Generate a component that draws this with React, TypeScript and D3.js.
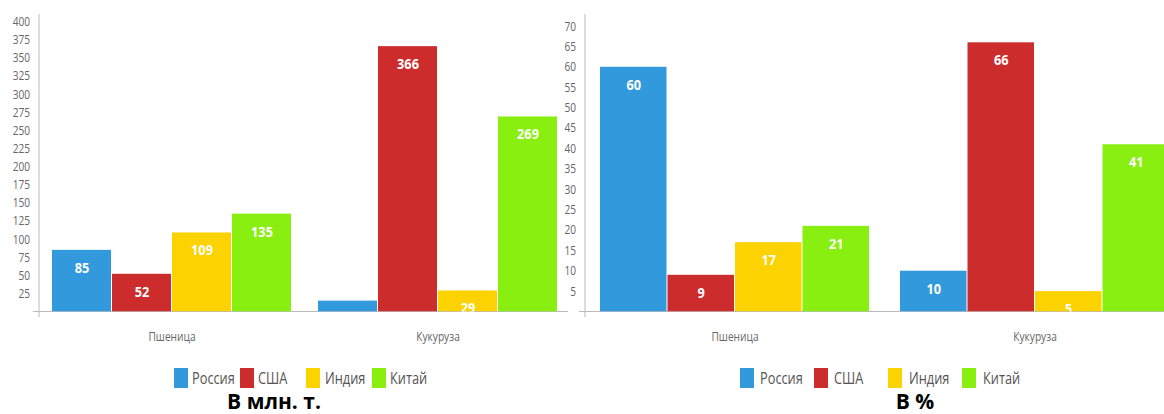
import React from "react";
import * as d3 from "d3";

const categories = ["Пшеница", "Кукуруза"];
const seriesNames = ["Россия", "США", "Индия", "Китай"];
const seriesColors = ["#3399dd", "#cc2c2c", "#fcd200", "#88ef10"];

// В млн. т.
const tonsRussia = [85, 15];
const tonsUSA = [52, 366];
const tonsIndia = [109, 29];
const tonsChina = [135, 269];
const tonsTicks = [25, 50, 75, 100, 125, 150, 175, 200, 225, 250, 275, 300, 325, 350, 375, 400];

// В %
const pctRussia = [60, 10];
const pctUSA = [9, 66];
const pctIndia = [17, 5];
const pctChina = [21, 41];
const pctTicks = [5, 10, 15, 20, 25, 30, 35, 40, 45, 50, 55, 60, 65, 70];

const font = "'Open Sans', 'Liberation Sans', sans-serif";

function NText(props: {
  x: number;
  y: number;
  sx?: number;
  anchor?: string;
  size: number;
  fill: string;
  bold?: boolean;
  children: React.ReactNode;
}) {
  const sx = props.sx ?? 0.82;
  return (
    <text
      transform={`translate(${props.x},${props.y}) scale(${sx},1)`}
      textAnchor={props.anchor ?? "start"}
      fontFamily={font}
      fontSize={props.size}
      fontWeight={props.bold ? "bold" : "normal"}
      fill={props.fill}
    >
      {props.children}
    </text>
  );
}

type PanelProps = {
  id: string;
  series: number[][];
  ticks: number[];
  yMax: number;
  yTop: number;
  axisX: number;
  xEnd: number;
  groupPad: number;
  labelX: number;
  baseStart: number;
  baseEnd: number;
  legendX: number[];
  legendTextX: number[];
  title: string;
  titleX: number;
};

function Panel(p: PanelProps) {
  const baseY = 311.5;
  const y = d3.scaleLinear().domain([0, p.yMax]).range([baseY, p.yTop]);
  const x0 = d3.scaleBand<string>().domain(categories).range([p.axisX, p.xEnd]).padding(0);
  const x1 = d3
    .scaleBand<string>()
    .domain(seriesNames)
    .range([p.groupPad, x0.bandwidth() - p.groupPad])
    .padding(0);
  return (
    <g>
      <defs>
        <clipPath id={"clip-" + p.id}>
          <rect x={p.axisX} y={0} width={p.xEnd - p.axisX} height={baseY} />
        </clipPath>
      </defs>
      {p.ticks.map((t) => (
        <NText key={t} x={p.labelX} y={y(t) + 4.5} anchor="end" size={13} fill="#666" sx={0.78}>
          {t}
        </NText>
      ))}
      <line x1={p.axisX} x2={p.axisX} y1={14} y2={317} stroke="#bbb" strokeWidth={1} />
      <line x1={p.baseStart} x2={p.baseEnd} y1={baseY} y2={baseY} stroke="#bbb" strokeWidth={1} />
      <g clipPath={`url(#clip-${p.id})`}>
        {categories.map((c, ci) =>
          seriesNames.map((s, si) => {
            const v = p.series[si][ci];
            const bx = (x0(c) as number) + (x1(s) as number);
            const top = y(v);
            return (
              <g key={c + s}>
                <rect
                  x={bx}
                  y={top}
                  width={x1.bandwidth() - 1}
                  height={baseY - top}
                  fill={seriesColors[si]}
                />
                <NText
                  x={bx + x1.bandwidth() / 2}
                  y={top + 23}
                  anchor="middle"
                  size={15}
                  bold
                  fill="#fff"
                  sx={0.85}
                >
                  {v}
                </NText>
              </g>
            );
          })
        )}
      </g>
      {categories.map((c) => (
        <NText
          key={c}
          x={(x0(c) as number) + x0.bandwidth() / 2}
          y={341}
          anchor="middle"
          size={12}
          fill="#666"
          sx={0.85}
        >
          {c}
        </NText>
      ))}
      {seriesNames.map((s, i) => (
        <g key={s}>
          <rect x={p.legendX[i]} y={368} width={14} height={20} fill={seriesColors[i]} />
          <NText x={p.legendTextX[i]} y={384} size={16} fill="#555" sx={0.8}>
            {s}
          </NText>
        </g>
      ))}
      <text
        x={p.titleX}
        y={409}
        textAnchor="middle"
        fontFamily={font}
        fontWeight="bold"
        fontSize={21}
        fill="#000"
      >
        {p.title}
      </text>
    </g>
  );
}

export default function App() {
  return (
    <svg
      width={1164}
      height={414}
      style={{ position: "absolute", left: 0, top: 0, background: "#fff" }}
    >
      <rect width={1164} height={414} fill="#fff" />
      <Panel
        id="a"
        series={[tonsRussia, tonsUSA, tonsIndia, tonsChina]}
        ticks={tonsTicks}
        yMax={400}
        yTop={21.5}
        axisX={39}
        xEnd={571}
        groupPad={13}
        labelX={30}
        baseStart={33}
        baseEnd={568}
        legendX={[174, 240, 306, 372]}
        legendTextX={[192, 258, 325, 390]}
        title="В млн. т."
        titleX={274}
      />
      <Panel
        id="b"
        series={[pctRussia, pctUSA, pctIndia, pctChina]}
        ticks={pctTicks}
        yMax={70}
        yTop={26}
        axisX={585}
        xEnd={1185}
        groupPad={15}
        labelX={576}
        baseStart={579}
        baseEnd={1164}
        legendX={[740, 814, 888, 962]}
        legendTextX={[760, 834, 909, 983]}
        title="В %"
        titleX={915}
      />
    </svg>
  );
}
